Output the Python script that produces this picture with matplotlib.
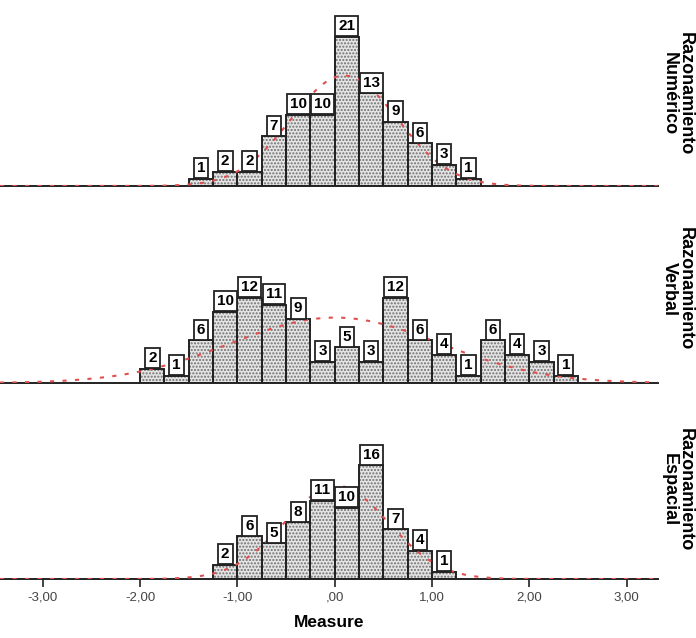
import numpy as np
import matplotlib
matplotlib.use("Agg")
import matplotlib.pyplot as plt

plt.rcParams['font.family'] = ['Liberation Sans', 'DejaVu Sans']

# histogram bins (width 0.25) and counts per panel
numerico_start = -1.5
numerico_counts = [1, 2, 2, 7, 10, 10, 21, 13, 9, 6, 3, 1]

verbal_start = -2.0
verbal_counts = [2, 1, 6, 10, 12, 11, 9, 3, 5, 3, 12, 6, 4, 1, 6, 4, 3, 1]

espacial_start = -1.25
espacial_counts = [2, 6, 5, 8, 11, 10, 16, 7, 4, 1]

bin_width = 0.25
panel_labels = ["Razonamiento\nNumérico", "Razonamiento\nVerbal", "Razonamiento\nEspacial"]
xticks = [-3, -2, -1, 0, 1, 2, 3]
xticklabels = ["-3,00", "-2,00", "-1,00", ",00", "1,00", "2,00", "3,00"]

panels = [
    (numerico_start, numerico_counts),
    (verbal_start, verbal_counts),
    (espacial_start, espacial_counts),
]

fig = plt.figure(figsize=(6.96, 6.38), dpi=100)
bottoms = [0.7085, 0.3997, 0.0925]
label_y = [0.853, 0.547, 0.232]
xlim = (-3.44, 3.32)

for i, ((start, counts), b) in enumerate(zip(panels, bottoms)):
    ax = fig.add_axes([0, b, 0.945, 0.29])
    counts = np.array(counts)
    lefts = start + bin_width * np.arange(len(counts))
    mids = lefts + bin_width / 2

    # dotted fill then black outline
    ax.bar(lefts, counts, width=bin_width, align='edge', color='#e4e4e4',
           edgecolor='#707070', hatch='.....', linewidth=0, zorder=2)
    ax.bar(lefts, counts, width=bin_width, align='edge', fill=False,
           edgecolor='#222222', linewidth=1.4, zorder=3)

    # normal curve fitted to the binned data
    n = counts.sum()
    mu = (counts * mids).sum() / n
    sd = np.sqrt((counts * (mids - mu) ** 2).sum() / n)
    xs = np.linspace(xlim[0], xlim[1], 400)
    ys = n * bin_width / (sd * np.sqrt(2 * np.pi)) * np.exp(-0.5 * ((xs - mu) / sd) ** 2)
    ax.plot(xs, ys, color='#e05050', linestyle=(0, (2, 4)), linewidth=1.5, zorder=4)

    for m, c in zip(mids, counts):
        ax.annotate(str(c), (m, c), xytext=(0, 2.5), textcoords='offset points',
                    ha='center', va='bottom', fontsize=11, fontweight='bold',
                    bbox=dict(boxstyle='square,pad=0.2', fc='white', ec='#222222', lw=1.3),
                    zorder=5)

    ax.set_xlim(*xlim)
    ax.set_ylim(0, 26)
    for s in ['top', 'right', 'left']:
        ax.spines[s].set_visible(False)
    ax.spines['bottom'].set_linewidth(1.4)
    ax.spines['bottom'].set_color('#222222')
    ax.set_yticks([])
    ax.patch.set_alpha(0)
    if i < 2:
        ax.set_xticks([])
    else:
        ax.set_xticks(xticks)
        ax.set_xticklabels(xticklabels, fontsize=9.5, color='#444444')
        ax.tick_params(axis='x', length=6, width=1.2, color='#222222', pad=3)
        ax.set_xlabel("Measure", fontsize=12.5, fontweight='bold', labelpad=8)

    fig.text(0.973, label_y[i], panel_labels[i], rotation=-90, ha='center', va='center',
             fontsize=13, fontweight='bold', linespacing=0.9)

fig.savefig("out.png", dpi=100)
